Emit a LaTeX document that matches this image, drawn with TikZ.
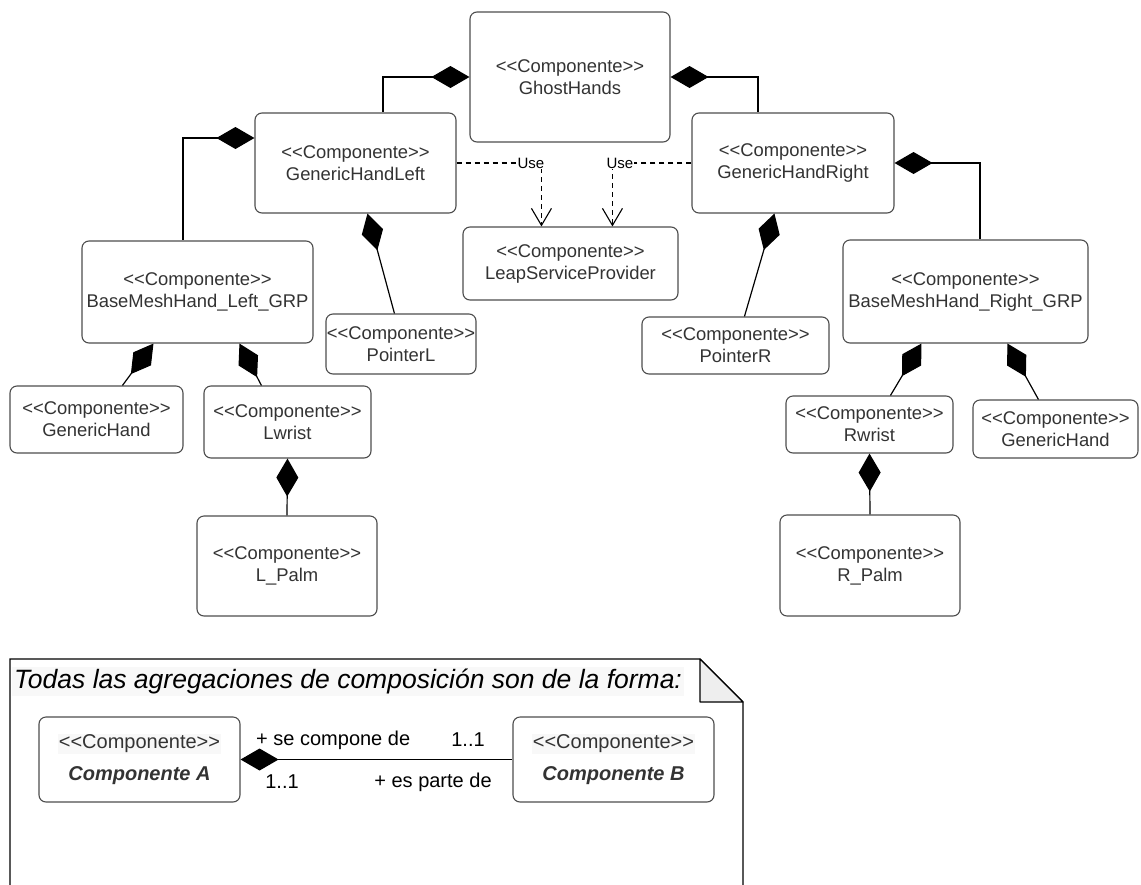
\documentclass[tikz,border=0pt]{standalone}
\usepackage{fontspec}
\setmainfont{Liberation Sans}[Ligatures=TeXOff]
\usetikzlibrary{arrows.meta,calc}
\definecolor{txt}{HTML}{333333}
\definecolor{edge}{HTML}{4D4D4D}
\definecolor{fold}{HTML}{EEEEEE}
\definecolor{hl}{HTML}{F8F8F8}
\begin{document}
\begin{tikzpicture}[x=1pt,y=-1pt,
  comp/.style={draw=edge, line width=1.1pt, rounded corners=7pt, fill=white,
    align=center, text=txt, font=\fontsize{18.4}{22}\selectfont, inner sep=0pt},
  legendbox/.style={comp, font=\fontsize{20}{32}\selectfont},
  compo/.style={draw=black, line width=1.2pt, {Diamond[length=38pt,width=22pt]}-},
  uses/.style={draw=black, line width=1.1pt, dash pattern=on 5pt off 4pt,
    -{Straight Barb[length=17pt,width=20pt]}},
  uselbl/.style={fill=white, inner sep=1pt, font=\fontsize{15}{17}\selectfont},
  lbl/.style={font=\fontsize{20}{24}\selectfont, inner sep=0pt}
]
\useasboundingbox (0,0) rectangle (1141,884);
\clip (0,0) rectangle (1141,884);

% ---- components ----
\node[comp, minimum width=200pt, minimum height=130pt] (gh) at (570,77) {<<Componente>>\\GhostHands};
\node[comp, minimum width=201pt, minimum height=100pt] (ghl) at (355.5,163) {<<Componente>>\\GenericHandLeft};
\node[comp, minimum width=202pt, minimum height=100pt] (ghr) at (793,163) {<<Componente>>\\GenericHandRight};
\node[comp, minimum width=215pt, minimum height=73pt] (leap) at (570.5,263.5) {<<Componente>>\\LeapServiceProvider};
\node[comp, minimum width=231pt, minimum height=102pt] (bml) at (197.5,292) {<<Componente>>\\BaseMeshHand\_Left\_GRP};
\node[comp, minimum width=245pt, minimum height=103pt] (bmr) at (965.5,291.5) {<<Componente>>\\BaseMeshHand\_Right\_GRP};
\node[comp, minimum width=150pt, minimum height=60pt] (ptl) at (401,344) {<<Componente>>\\PointerL};
\node[comp, minimum width=187pt, minimum height=57pt] (ptr) at (735.5,345.5) {<<Componente>>\\PointerR};
\node[comp, minimum width=173pt, minimum height=67pt] (ghandL) at (96.5,419.5) {<<Componente>>\\GenericHand};
\node[comp, minimum width=167pt, minimum height=72pt] (lwrist) at (287.5,422) {<<Componente>>\\Lwrist};
\node[comp, minimum width=180pt, minimum height=100pt] (lpalm) at (287,566) {<<Componente>>\\L\_Palm};
\node[comp, minimum width=167pt, minimum height=57pt] (rwrist) at (869.5,424.5) {<<Componente>>\\Rwrist};
\node[comp, minimum width=165pt, minimum height=58pt] (ghandR) at (1055.5,429) {<<Componente>>\\GenericHand};
\node[comp, minimum width=180pt, minimum height=101pt] (rpalm) at (870,565.5) {<<Componente>>\\R\_Palm};

% ---- composition links ----
\draw[compo] (gh.west) -| ([xshift=27.5pt]ghl.north);
\draw[compo] (gh.east) -| ([xshift=-35pt]ghr.north);
\draw[compo] ([yshift=25pt]ghl.west) -| ([xshift=-14.5pt]bml.north);
\draw[compo] (ghr.east) -| ([xshift=14.5pt]bmr.north);
\draw[compo] ([xshift=113pt]ghl.south west) -- ([xshift=69pt]ptl.north west);
\draw[compo] ([xshift=83pt]ghr.south west) -- ([xshift=103pt]ptr.north west);
\draw[compo] ([xshift=72pt]bml.south west) -- ([xshift=113pt]ghandL.north west);
\draw[compo] ([xshift=158pt]bml.south west) -- ([xshift=58pt]lwrist.north west);
\draw[compo] (lwrist.south) -- (lpalm.north);
\draw[compo] ([xshift=79pt]bmr.south west) -- ([xshift=105pt]rwrist.north west);
\draw[compo] ([xshift=165pt]bmr.south west) -- ([xshift=66pt]ghandR.north west);
\draw[compo] (rwrist.south) -- (rpalm.north);

% ---- usage dependencies ----
\draw[uses] (ghl.east) -| ([xshift=79pt]leap.north west);
\draw[uses] (ghr.west) -| ([xshift=150pt]leap.north west);
\node[uselbl] (u1) at (531,163) {Use};
\node[uselbl] (u2) at (620,163) {Use};

% ---- note with folded corner ----
\fill[white] (10,890) -- (10,659) -- (700,659) -- (743,702) -- (743,890) -- cycle;
\draw[black, line width=1.1pt] (10,890) -- (10,659) -- (700,659) -- (743,702) -- (743,890);
\filldraw[fill=fold, draw=black, line width=1.1pt, line join=round] (700,659) -- (743,702) -- (700,702) -- cycle;
\node[anchor=west, fill=hl, inner sep=2pt, font=\fontsize{26.5}{30}\selectfont\itshape] (title) at (12,681)
  {Todas las agregaciones de composición son de la forma:};

\node[legendbox, minimum width=201pt, minimum height=85pt] (compA) at (139.5,759.5)
  {{\setlength\fboxsep{1pt}\colorbox{hl}{<<Componente>>}}\\\textbf{\textit{Componente A}}};
\node[legendbox, minimum width=201pt, minimum height=85pt] (compB) at (613.5,759.5)
  {{\setlength\fboxsep{1pt}\colorbox{hl}{<<Componente>>}}\\\textbf{\textit{Componente B}}};
\draw[compo] (compA.east) -- (compB.west);
\node[lbl, anchor=west] (r1) at (256,740) {+ se compone de};
\node[lbl] (m1) at (468,740) {1..1};
\node[lbl] (m2) at (282,782) {1..1};
\node[lbl] (r2) at (433,782) {+ es parte de};
\end{tikzpicture}
\end{document}
